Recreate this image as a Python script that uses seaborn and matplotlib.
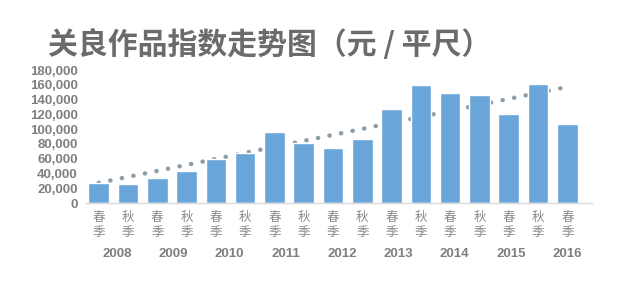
import numpy as np
import pandas as pd
import seaborn as sns
import matplotlib.pyplot as plt

sns.set_theme(style="white")
plt.rcParams['font.family'] = ['Liberation Sans', 'Noto Sans CJK SC', 'DejaVu Sans']

seasons = ['春\n季', '秋\n季'] * 8 + ['春\n季']
years = ['2008', '2009', '2010', '2011', '2012', '2013', '2014', '2015', '2016']
values = [27000, 26000, 34000, 43700, 60300, 68000, 96000, 81600, 74800,
          86600, 127000, 160000, 149600, 145600, 120400, 161800, 106400]

df = pd.DataFrame({'period': [f'{i}' for i in range(len(values))], 'value': values})

fig = plt.figure(figsize=(6.24, 2.86), dpi=100)
ax = fig.add_axes([0.138, 0.29, 0.811, 0.465])

# linear trend line, drawn behind the bars
x = np.arange(len(values))
k, b = np.polyfit(x, values, 1)
ax.plot(x, k * x + b, color='#8c9daa', linewidth=3.2,
        linestyle=(0, (0.05, 2.6)), dash_capstyle='round', zorder=1)

sns.barplot(data=df, x='period', y='value', color='#6aa6da', saturation=1,
            width=0.7, ax=ax, zorder=2)

ax.set_xlim(-0.43, 16.85)
ax.set_ylim(0, 180000)
ax.set_yticks(range(0, 180001, 20000))
ax.set_yticklabels([f'{v:,}' for v in range(0, 180001, 20000)],
                   fontsize=9.5, fontweight='bold', color='#7f7f7f')
ax.set_xticks(x)
ax.set_xticklabels(seasons, fontsize=9, color='#8a8a8a', linespacing=1.2,
                   family=['Noto Sans CJK SC', 'DejaVu Sans'])
ax.tick_params(axis='x', length=0, pad=6)
ax.tick_params(axis='y', length=0, pad=6)
ax.set_xlabel('')
ax.set_ylabel('')
for s in ['top', 'right', 'left']:
    ax.spines[s].set_visible(False)
ax.spines['bottom'].set_color('#d9d9d9')
ax.spines['bottom'].set_linewidth(1)

# year labels sit evenly spaced under the season labels
year_pos = np.linspace(0.63, 16, len(years))
for p, yr in zip(year_pos, years):
    ax.text(p, -0.385, yr, transform=ax.get_xaxis_transform(), ha='center',
            va='center', fontsize=9.5, fontweight='bold', color='#7f7f7f')

fig.text(0.077, 0.845, '关良作品指数走势图（元 / 平尺）', fontsize=21.5, fontweight='bold',
         color='#6b6b6b', va='center', family=['Noto Sans CJK SC', 'DejaVu Sans'])

fig.savefig('out.png', dpi=100, facecolor='white')
